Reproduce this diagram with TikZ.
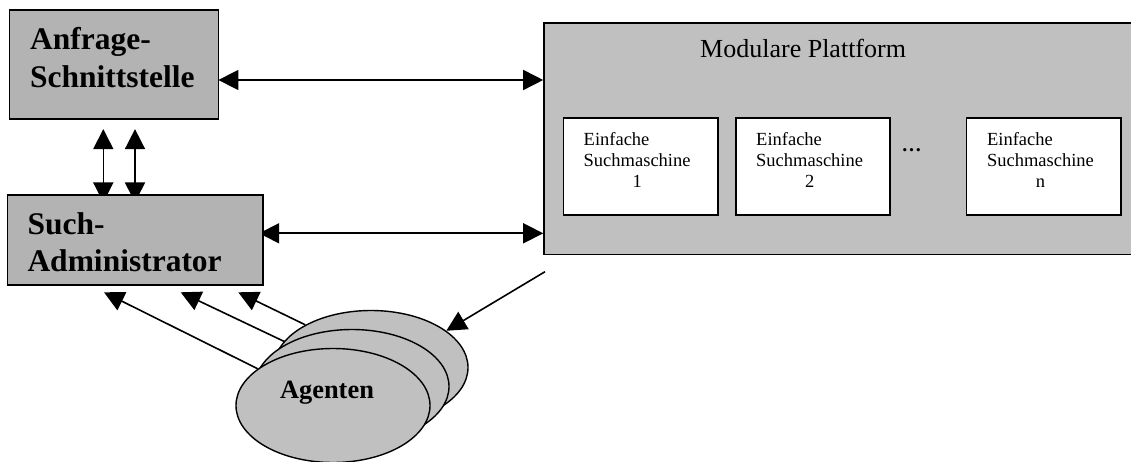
\documentclass[tikz,border=0pt]{standalone}
\usepackage{fontspec}
\setmainfont{Liberation Serif}
\usetikzlibrary{arrows.meta,shapes.geometric}
\pgfdeclarelayer{background}
\pgfsetlayers{background,main}
\definecolor{blockgray}{HTML}{B3B3B3}
\definecolor{platgray}{HTML}{C0C0C0}

\begin{document}
\begin{tikzpicture}[x=1pt,y=-1pt,
  block/.style={draw, line width=1.6pt, fill=blockgray, inner sep=0pt},
  platform/.style={draw, line width=1.6pt, fill=platgray, inner sep=0pt},
  engine/.style={draw, line width=1.6pt, fill=white, inner sep=0pt,
    minimum width=154.4pt, minimum height=96.7pt},
  agent/.style={ellipse, draw, line width=1.4pt, fill=platgray, inner sep=0pt,
    minimum width=194pt, minimum height=114pt},
  boldlbl/.style={inner sep=0pt, font=\fontsize{31.5}{38}\selectfont\bfseries},
  smalllbl/.style={inner sep=0pt, font=\fontsize{18.5}{21.3}\selectfont},
  arr/.style={line width=1.6pt, -{Triangle[length=20pt,width=20pt]}},
  dbl/.style={line width=1.6pt, {Triangle[length=20pt,width=20pt]}-{Triangle[length=20pt,width=20pt]}}
]
\useasboundingbox (0,0) rectangle (1131,462);

% left-hand blocks
\node[block, minimum width=209pt, minimum height=109.3pt] (anf) at (113.8,64.65) {};
\node[boldlbl, anchor=base west] (anftxt) at (30,49.3)
  {\begin{tabular}[t]{@{}l@{}}Anfrage-\\Schnittstelle\end{tabular}};

\node[block, minimum width=255.7pt, minimum height=90pt] (such) at (135.15,240) {};
\node[boldlbl, font=\fontsize{31.5}{36.7}\selectfont\bfseries, anchor=base west] (suchtxt) at (27.3,235)
  {\begin{tabular}[t]{@{}l@{}}Such-\\Administrator\end{tabular}};

% platform with its search engines
\node[platform, minimum width=590pt, minimum height=231pt] (mod) at (839,138.8) {};
\node[inner sep=0pt, font=\fontsize{26}{30}\selectfont, anchor=base west] (modtitle) at (700,57.7) {Modulare Plattform};

\foreach \n/\cx/\lab in {1/640.5/1, 2/813/2, 3/1043.85/n} {
  \node[engine] (se\n) at (\cx,166.65) {};
  \node[smalllbl, anchor=base west] (se\n txt) at ([xshift=21pt,yshift=-27.7pt]se\n.north west)
    {\begin{tabular}[t]{@{}l@{}}Einfache\\Suchmaschine\\\multicolumn{1}{@{}c@{}}{\lab}\end{tabular}};
}
\node[inner sep=0pt, font=\fontsize{20}{24}\selectfont\bfseries, anchor=base west] (dots) at (901.5,152) {…};

% agents
\node[agent] (back) at (371,367.5) {};
\node[agent] (mid) at (352,386.5) {};
\node[agent] (front) at (333,405.5) {};
\node[inner sep=0pt, font=\fontsize{26.4}{30}\selectfont\bfseries, anchor=base] (agtxt) at (327,398.3) {Agenten};

% helper coordinates for connector ends
\coordinate (v1) at (103.3,0);
\coordinate (v2) at (135,0);
\coordinate (h1) at (0,80);
\coordinate (h2) at (0,233.3);
\coordinate (t1) at (104,292.3);
\coordinate (t2) at (180.7,292.3);
\coordinate (t3) at (238.3,292.3);
\coordinate (m) at (545,271.7);

\begin{pgfonlayer}{background}
\draw[dbl, shorten <=9pt, shorten >=-8.3pt] (v1 |- anf.south) -- (v1 |- such.north);
\draw[dbl, shorten <=9pt, shorten >=-8.3pt] (v2 |- anf.south) -- (v2 |- such.north);
\draw[dbl, shorten <=-0.7pt] (h1 -| anf.east) -- (h1 -| mod.west);
\draw[dbl, shorten <=-4.7pt] (h2 -| such.east) -- (h2 -| mod.west);
\draw[arr] (front.154) -- (t1);
\draw[arr] (mid.146.5) -- (t2);
\draw[arr] (back.147.2) -- (t3);
\draw[arr] (m) -- (back.26);
\end{pgfonlayer}
\end{tikzpicture}
\end{document}
